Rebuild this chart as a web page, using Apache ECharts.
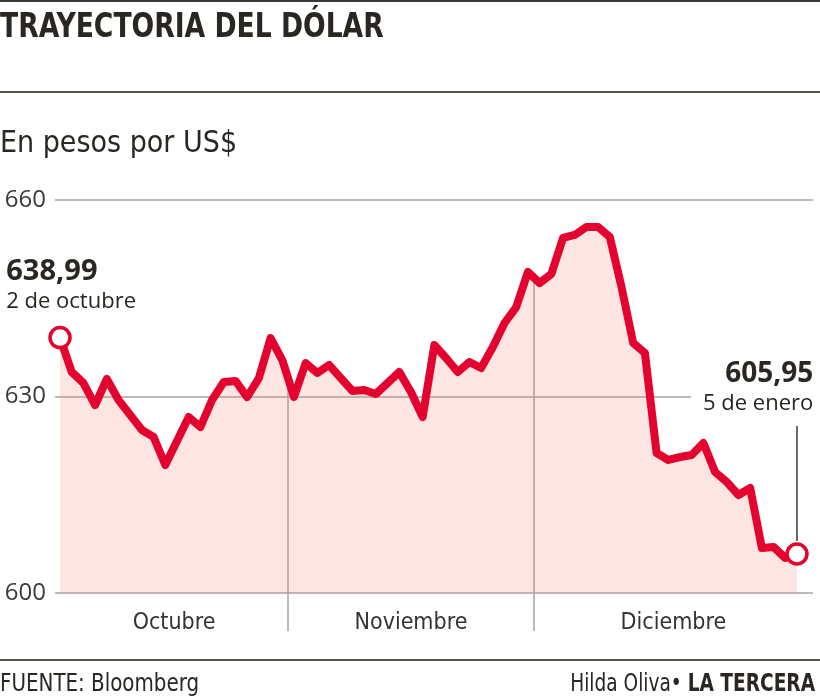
<!DOCTYPE html>
<html>
<head>
<meta charset="utf-8">
<script src="https://cdn.jsdelivr.net/npm/echarts@6/dist/echarts.min.js"></script>
<style>
html,body{margin:0;padding:0;background:#fff;}
#chart{width:820px;height:698px;}
</style>
</head>
<body>
<div id="chart"></div>
<script>
// ---- Data (Chilean peso per US$, trading days 2 Oct 2017 – 5 Jan 2018) ----
const monthNames = ['Octubre', 'Noviembre', 'Diciembre'];
const monthStartIndex = [0, 20, 41, 60]; // first trading day of Oct, Nov, Dec, Jan
const yTicks = [600, 630, 660];
const values = [
  638.99, 633.74, 632.06, 628.70, 632.67, 629.47, 627.18, 624.89, 623.82, 619.54,
  623.21, 626.87, 625.34, 629.47, 632.21, 632.37, 629.92, 632.82, 638.93, 635.57,
  629.92, 635.11, 633.59, 634.81, 632.82, 630.84, 630.99, 630.38, 632.06, 633.74,
  630.69, 626.87, 637.86, 635.88, 633.74, 635.27, 634.35, 637.56, 641.22, 643.66,
  649.01, 647.33, 648.70, 654.20, 654.66, 655.88, 655.88, 654.35, 646.72, 638.17,
  636.64, 621.37, 620.31, 620.76, 621.07, 622.90, 618.47, 616.95, 614.96, 616.03,
  606.87, 607.02, 605.34, 605.95
];
const startDateLabel = '2 de octubre';
const endDateLabel = '5 de enero';
const titleText = 'TRAYECTORIA DEL DÓLAR';
const subtitleText = 'En pesos por US$';
const sourceText = 'FUENTE: Bloomberg';
const creditName = 'Hilda Oliva';
const creditPaper = 'LA TERCERA';

// ---- Derived ----
const N = values.length;
const lineData = values.map((v, i) => [i, v]);
const fmt = v => v.toFixed(2).replace('.', ',');
const dividers = [monthStartIndex[1] - 0.5, monthStartIndex[2] - 0.5];
const xMin = -0.43, xMax = N - 1 + 1.37;
const labelPos = [
  (monthStartIndex[0] + dividers[0]) / 2,
  (dividers[0] + dividers[1]) / 2,
  (dividers[1] + xMax) / 2
];
const interpAt = x => {
  const i = Math.floor(x), f = x - i;
  return values[i] * (1 - f) + values[i + 1] * f;
};

const FONT = '"Liberation Sans Narrow", "DejaVu Sans Condensed", Roboto, sans-serif';
const NUMFONT = '"Open Sans", "Noto Sans", sans-serif';
const RED = '#e4032e';
const GRID = '#a3a3a3';
const INK = '#2a2622';

const chart = echarts.init(document.getElementById('chart'), null, {renderer: 'canvas'});

const option = {
  backgroundColor: '#fff',
  animation: false,
  grid: {left: 55, right: 7, top: 200, bottom: 105, containLabel: false},
  xAxis: {
    type: 'value', min: xMin, max: xMax,
    axisLine: {show: false},
    splitLine: {show: false},
    axisTick: {show: true, customValues: dividers, length: 38, lineStyle: {color: GRID, width: 1.5}},
    axisLabel: {
      customValues: labelPos, margin: 19, color: '#333',
      fontFamily: FONT, fontSize: 23,
      formatter: v => {
        let k = 0, best = Infinity;
        labelPos.forEach((p, j) => { if (Math.abs(p - v) < best) { best = Math.abs(p - v); k = j; } });
        return monthNames[k];
      }
    }
  },
  yAxis: {
    type: 'value', min: yTicks[0], max: yTicks[yTicks.length - 1], interval: 30,
    axisLine: {show: false}, axisTick: {show: false},
    splitLine: {show: true, lineStyle: {color: GRID, width: 1.5}},
    axisLabel: {color: '#3a3a3a', fontFamily: NUMFONT, fontSize: 24, margin: 9}
  },
  series: [
    {
      type: 'line', data: lineData, symbol: 'none', z: 3,
      lineStyle: {color: RED, width: 8, join: 'round', cap: 'round'},
      areaStyle: {color: 'rgba(245,138,118,0.30)', origin: 'start'},
      markLine: {
        silent: true, symbol: 'none', z: 1, label: {show: false},
        lineStyle: {color: GRID, width: 1.5, type: 'solid'},
        data: dividers.map(d => [{coord: [d, yTicks[0]]}, {coord: [d, interpAt(d)]}])
      }
    },
    {
      type: 'scatter', z: 5, symbol: 'circle', symbolSize: 20,
      itemStyle: {color: '#fff', borderColor: RED, borderWidth: 3.5, opacity: 1},
      data: [
        {
          value: lineData[0],
          label: {
            show: true, position: [-42, -71], align: 'left',
            formatter: '{a|' + fmt(values[0]) + '}\n{b|' + startDateLabel + '}',
            rich: {
              a: {fontFamily: NUMFONT, fontWeight: 'bold', fontSize: 29, color: INK, lineHeight: 33},
              b: {fontFamily: NUMFONT, fontSize: 22, color: INK, lineHeight: 28}
            }
          }
        },
        {
          value: lineData[N - 1],
          label: {
            show: true, position: [28, -186], align: 'right',
            backgroundColor: '#fff', padding: [2, 0, 4, 12],
            formatter: '{a|' + fmt(values[N - 1]) + '}\n{b|' + endDateLabel + '}',
            rich: {
              a: {fontFamily: NUMFONT, fontWeight: 'bold', fontSize: 28, color: INK, lineHeight: 32, align: 'right'},
              b: {fontFamily: NUMFONT, fontSize: 22, color: INK, lineHeight: 27, align: 'right'}
            }
          }
        }
      ]
    }
  ],
  graphic: [
    {type: 'rect', shape: {x: 0, y: 0, width: 820, height: 2}, style: {fill: '#3b3833'}},
    {type: 'text', x: 0, y: 11, scaleX: 0.87, style: {text: titleText, font: 'bold 34px ' + FONT, fill: INK}},
    {type: 'rect', shape: {x: 0, y: 91, width: 820, height: 2}, style: {fill: '#56524c'}},
    {type: 'text', x: 0, y: 129, style: {text: subtitleText, font: '30px ' + FONT, fill: INK}},
    {type: 'rect', shape: {x: 0, y: 659, width: 820, height: 2}, style: {fill: '#56524c'}},
    {type: 'text', x: 0, y: 673, scaleX: 0.92, style: {text: sourceText, font: '24px ' + FONT, fill: INK}},
    {type: 'text', x: 815, y: 673, scaleX: 0.86, style: {
      text: '{n|' + creditName + '• }{p|' + creditPaper + '}', align: 'right',
      rich: {
        n: {fontFamily: FONT, fontSize: 24, fill: INK, color: INK},
        p: {fontFamily: FONT, fontSize: 24, fontWeight: 'bold', fill: INK, color: INK}
      }
    }}
  ]
};
chart.setOption(option);

// Leader line from end label down to the last point
const pEnd = chart.convertToPixel({seriesIndex: 0}, lineData[N - 1]);
chart.setOption({
  graphic: option.graphic.concat([
    {type: 'line', shape: {x1: pEnd[0], y1: pEnd[1] - 128, x2: pEnd[0], y2: pEnd[1] - 13},
     style: {stroke: '#3b3833', lineWidth: 1.5}, z: 10}
  ])
});
</script>
</body>
</html>
